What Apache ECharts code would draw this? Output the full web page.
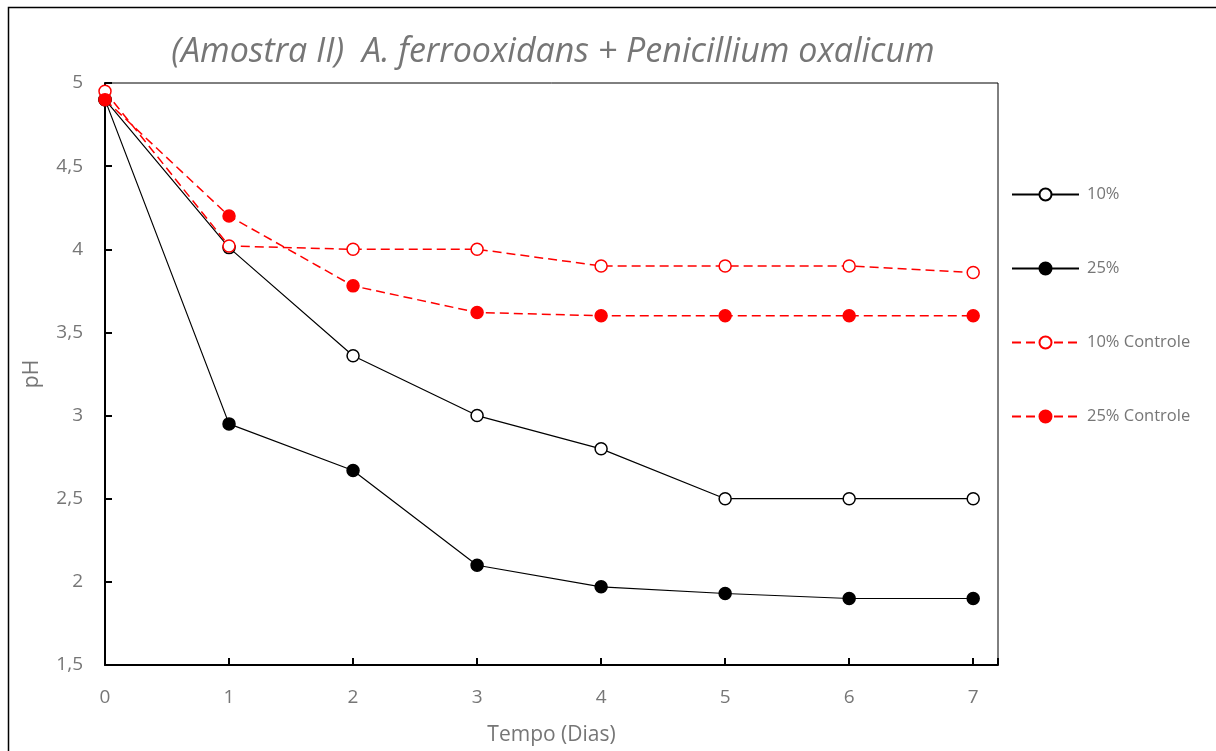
<!DOCTYPE html>
<html><head><meta charset="utf-8">
<script src="https://cdn.jsdelivr.net/npm/echarts@6/dist/echarts.min.js"></script>
<style>html,body{margin:0;padding:0;background:#fff}#c{width:1216px;height:751px}</style>
</head><body><div id="c"></div>
<script>
const days = [0, 1, 2, 3, 4, 5, 6, 7];
const s10 = [4.90, 4.01, 3.36, 3.00, 2.80, 2.50, 2.50, 2.50];
const s25 = [4.90, 2.95, 2.67, 2.10, 1.97, 1.93, 1.90, 1.90];
const s10c = [4.95, 4.02, 4.00, 4.00, 3.90, 3.90, 3.90, 3.86];
const s25c = [4.90, 4.20, 3.78, 3.62, 3.60, 3.60, 3.60, 3.60];
const names = ['10%', '25%', '10% Controle', '25% Controle'];
const FONT = 'Open Sans';
const GRAY = '#767676';
const pair = a => days.map((d, i) => [d, a[i]]);
function mk(name, data, color, filled, dashed) {
  return {
    name, type: 'line', data: pair(data),
    symbol: 'circle', symbolSize: 12,
    itemStyle: { color: filled ? color : '#fff', borderColor: color, borderWidth: 1.5 },
    lineStyle: { color, width: dashed ? 1.5 : 1.2, type: dashed ? [9, 5] : 'solid' },
    emphasis: { disabled: true }, animation: false
  };
}
const chart = echarts.init(document.getElementById('c'), null, { renderer: 'canvas' });
chart.setOption({
  animation: false,
  backgroundColor: '#fff',
  title: {
    text: '(Amostra II)  A. ferrooxidans + Penicillium oxalicum',
    left: 548, top: 30, textAlign: 'center',
    textStyle: { fontFamily: FONT, fontStyle: 'italic', fontWeight: 'normal', fontSize: 34, color: GRAY }
  },
  graphic: [{ type: 'rect', shape: { x: 8.5, y: 7.5, width: 1250, height: 800 }, style: { fill: 'none', stroke: '#000', lineWidth: 1.5 }, silent: true }],
  grid: { left: 105, top: 83, right: 218, bottom: 86, show: true, borderColor: '#000', borderWidth: 1, backgroundColor: 'transparent' },
  legend: {
    orient: 'vertical', left: 1006, top: 181, itemWidth: 67, itemHeight: 15, itemGap: 57,
    data: names,
    textStyle: { fontFamily: FONT, fontSize: 16.5, color: GRAY, padding: [0, 0, 0, 3] }
  },
  xAxis: {
    type: 'value', min: 0, max: 7.2, interval: 1,
    name: 'Tempo (Dias)', nameLocation: 'middle', nameGap: 60,
    nameTextStyle: { fontFamily: FONT, fontSize: 21, color: GRAY },
    axisLine: { lineStyle: { color: '#000', width: 2 } },
    axisTick: { inside: true, length: 7, lineStyle: { color: '#000', width: 2 } },
    axisLabel: { fontFamily: FONT, fontSize: 19, color: GRAY, margin: 23, formatter: v => (Number.isInteger(v) ? String(v) : '') },
    splitLine: { show: false }
  },
  yAxis: {
    type: 'value', min: 1.5, max: 5, interval: 0.5,
    name: 'pH', nameLocation: 'middle', nameGap: 62,
    nameTextStyle: { fontFamily: FONT, fontSize: 21, color: GRAY },
    axisLine: { show: true, lineStyle: { color: '#000', width: 2 } },
    axisTick: { show: true, inside: true, length: 7, lineStyle: { color: '#000', width: 2 } },
    axisLabel: { fontFamily: FONT, fontSize: 19, color: GRAY, margin: 22, formatter: v => String(v).replace('.', ',') },
    splitLine: { show: false }
  },
  series: [
    mk(names[0], s10, '#000', false, false),
    mk(names[1], s25, '#000', true, false),
    mk(names[2], s10c, '#ff0000', false, true),
    mk(names[3], s25c, '#ff0000', true, true)
  ]
});
</script></body></html>
